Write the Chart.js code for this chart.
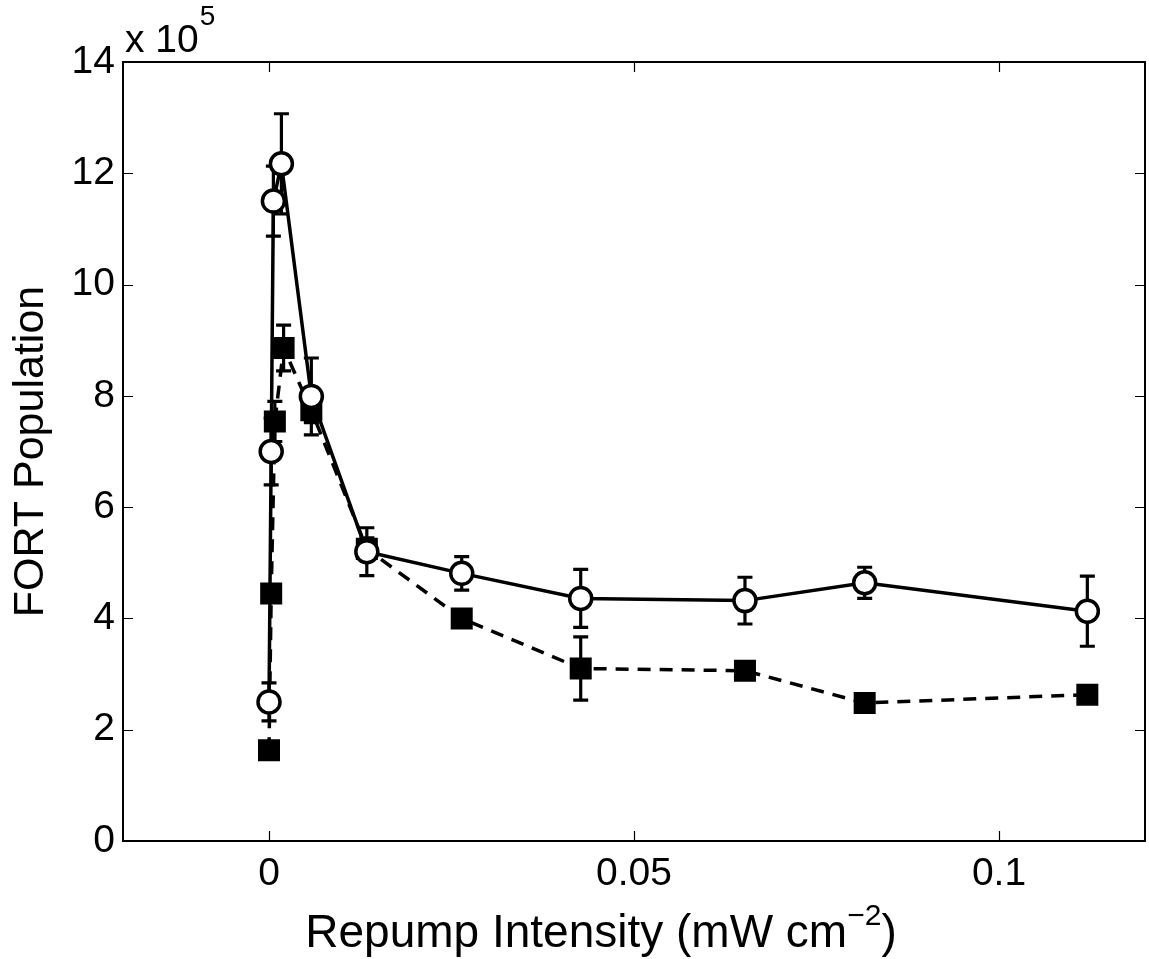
<!DOCTYPE html>
<html>
<head>
<meta charset="utf-8">
<script src="https://cdn.jsdelivr.net/npm/chart.js@4.4.1/dist/chart.umd.min.js"></script>
<style>
  html, body { margin: 0; padding: 0; background: #fff; overflow: hidden; }
  #wrap { width: 1149px; height: 959px; position: relative; }
</style>
</head>
<body>
<div id="wrap"><canvas id="fort"></canvas></div>
<script>
// repump intensity (mW cm^-2) and FORT population (x 10^5)
const openX   = [0, 0.0003, 0.0006, 0.0017, 0.0058, 0.0134, 0.0264, 0.0427, 0.0652, 0.0816, 0.1121];
const openY   = [2.50, 7.00, 11.50, 12.17, 7.99, 5.20, 4.81, 4.36, 4.32, 4.64, 4.13];
const openErr = [0.34, 0.60, 0.63, 0.90, 0.69, 0.43, 0.30, 0.52, 0.42, 0.28, 0.63];

const fillX   = [0, 0.0003, 0.0008, 0.0020, 0.0058, 0.0134, 0.0264, 0.0427, 0.0652, 0.0816, 0.1121];
const fillY   = [1.63, 4.45, 7.54, 8.86, 7.74, 5.25, 4.00, 3.10, 3.06, 2.48, 2.63];
const fillErr = [0.12, 0.15, 0.36, 0.41, 0.22, 0.20, 0.15, 0.57, 0.12, 0.08, 0.12];

const xTicks = [0, 0.05, 0.1];
const yTicks = [0, 2, 4, 6, 8, 10, 12, 14];

const FONT = "'Liberation Sans', Arial, Helvetica, sans-serif";

function pts(xs, ys) {
    return xs.map((x, i) => ({ x: x, y: ys[i] }));
}

// vertical error bars, drawn under the markers
const errorBars = {
    id: 'errorBars',
    beforeDatasetsDraw(chart) {
        const ctx = chart.ctx, xs = chart.scales.x, ys = chart.scales.y;
        const sets = [[openX, openY, openErr], [fillX, fillY, fillErr]];
        ctx.save();
        ctx.strokeStyle = '#000';
        ctx.lineWidth = 3.2;
        sets.forEach(([X, Y, E]) => {
            X.forEach((xv, i) => {
                const px = xs.getPixelForValue(xv);
                const top = ys.getPixelForValue(Y[i] + E[i]);
                const bot = ys.getPixelForValue(Y[i] - E[i]);
                ctx.beginPath();
                ctx.moveTo(px, top); ctx.lineTo(px, bot);
                ctx.moveTo(px - 7.5, top); ctx.lineTo(px + 7.5, top);
                ctx.moveTo(px - 7.5, bot); ctx.lineTo(px + 7.5, bot);
                ctx.stroke();
            });
        });
        ctx.restore();
    }
};

// matlab style box, inward ticks and text pieces
const frame = {
    id: 'frame',
    afterDraw(chart) {
        const ctx = chart.ctx, a = chart.chartArea;
        const xs = chart.scales.x, ys = chart.scales.y;
        ctx.save();
        ctx.strokeStyle = '#000';
        ctx.lineWidth = 1.2;
        xTicks.forEach(v => {
            const px = Math.round(xs.getPixelForValue(v)) + 0.5;
            ctx.beginPath();
            ctx.moveTo(px, a.bottom); ctx.lineTo(px, a.bottom - 10);
            ctx.moveTo(px, a.top); ctx.lineTo(px, a.top + 10);
            ctx.stroke();
        });
        yTicks.forEach(v => {
            const py = Math.round(ys.getPixelForValue(v)) + 0.5;
            ctx.beginPath();
            ctx.moveTo(a.left, py); ctx.lineTo(a.left + 10, py);
            ctx.moveTo(a.right, py); ctx.lineTo(a.right - 10, py);
            ctx.stroke();
        });
        ctx.lineWidth = 2;
        ctx.strokeRect(a.left, a.top, a.right - a.left, a.bottom - a.top);

        ctx.fillStyle = '#000';
        ctx.textBaseline = 'alphabetic';
        ctx.textAlign = 'left';
        // exponent label
        ctx.font = '39px ' + FONT;
        ctx.fillText('x 10', 125, 52);
        const w10 = ctx.measureText('x 10').width;
        ctx.font = '28px ' + FONT;
        ctx.fillText('5', 125 + w10 + 1, 25);

        // x axis title with superscript
        const main = 'Repump Intensity (mW cm';
        ctx.font = '46px ' + FONT;
        const w1 = ctx.measureText(main).width, w3 = ctx.measureText(')').width;
        ctx.font = '30px ' + FONT;
        const w2 = ctx.measureText('\u22122').width;
        let x0 = 601 - (w1 + w2 + w3) / 2;
        ctx.font = '46px ' + FONT;
        ctx.fillText(main, x0, 947);
        ctx.font = '30px ' + FONT;
        ctx.fillText('\u22122', x0 + w1, 925);
        ctx.font = '46px ' + FONT;
        ctx.fillText(')', x0 + w1 + w2, 947);
        ctx.restore();
    }
};

new Chart(document.getElementById('fort'), {
    type: 'line',
    data: {
        datasets: [
            {
                label: 'open',
                data: pts(openX, openY),
                borderColor: '#000',
                borderWidth: 3.5,
                pointStyle: 'circle',
                pointRadius: 11,
                pointBorderWidth: 3.5,
                pointBackgroundColor: '#fff',
                pointBorderColor: '#000',
                tension: 0
            },
            {
                label: 'filled',
                data: pts(fillX, fillY),
                borderColor: '#000',
                borderWidth: 3.5,
                borderDash: [13, 9],
                pointStyle: 'rect',
                pointRadius: 14.5,
                pointBorderWidth: 1.5,
                pointBackgroundColor: '#000',
                pointBorderColor: '#000',
                tension: 0
            }
        ]
    },
    options: {
        responsive: true,
        maintainAspectRatio: false,
        animation: false,
        events: [],
        layout: { autoPadding: false, padding: { top: 62, right: 4, left: 0, bottom: 0 } },
        plugins: { legend: { display: false }, tooltip: { enabled: false } },
        scales: {
            x: {
                type: 'linear',
                min: -0.02,
                max: 0.12,
                grid: { display: false },
                border: { display: false },
                afterBuildTicks: s => { s.ticks = xTicks.map(v => ({ value: v })); },
                afterFit: s => { s.height = 118; },
                ticks: {
                    padding: 2,
                    color: '#000',
                    font: { family: FONT, size: 39 },
                    maxRotation: 0,
                    callback: v => String(v)
                }
            },
            y: {
                type: 'linear',
                min: 0,
                max: 14,
                grid: { display: false },
                border: { display: false },
                afterBuildTicks: s => { s.ticks = yTicks.map(v => ({ value: v })); },
                afterFit: s => { s.width = 123; },
                ticks: {
                    padding: 0,
                    color: '#000',
                    font: { family: FONT, size: 39 },
                    callback: v => String(v)
                },
                title: {
                    display: true,
                    text: 'FORT Population',
                    color: '#000',
                    font: { family: FONT, size: 43 },
                    padding: { top: 5, bottom: 0 }
                }
            }
        }
    },
    plugins: [errorBars, frame]
});
</script>
</body>
</html>
